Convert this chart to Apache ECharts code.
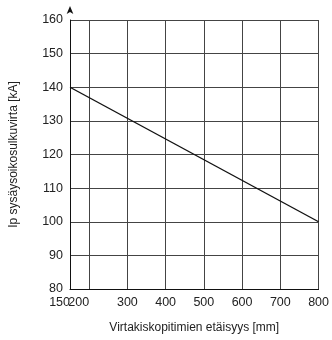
<!DOCTYPE html>
<html lang="fi">
<head>
    <meta http-equiv="Content-Type" content="text/html; charset=UTF-8">
    <title>Ip sysäysoikosulkuvirta</title>
    <script type="text/javascript" src="https://cdn.jsdelivr.net/npm/echarts@6/dist/echarts.min.js"></script>
</head>
<body style="margin:0;width:332px;height:340px;background:#fff">
<div id="main" style="width:332px;height:340px"></div>
<script type="text/javascript">
    // etäisyys [mm] ja virta [kA]
    var distance = [150, 800];
    var current = [140, 100];
    var xTicks = [150, 200, 300, 400, 500, 600, 700, 800];
    var xLabels = [300, 400, 500, 600, 700, 800];
    // 150 ja 200 ovat lähekkäin, ne piirretään omilla akseleillaan oikealle tasattuina
    var xLeftLabels = [[150], [200]];

    var lineData = distance.map(function (d, i) { return [d, current[i]]; });

    var myChart = echarts.init(document.getElementById('main'));
    var font = 'Liberation Sans, Arial, sans-serif';

    var extraAxes = xLeftLabels.map(function (vals) {
        return {
            type: 'value',
            min: 150,
            max: 800,
            position: 'bottom',
            axisLine: { show: false },
            axisTick: { show: false, customValues: vals },
            splitLine: { show: false },
            axisLabel: {
                customValues: vals,
                showMinLabel: true,
                hideOverlap: false,
                align: 'right',
                color: '#222', fontSize: 12.5, fontFamily: font, margin: 7
            }
        };
    });

    myChart.setOption({
        animation: false,
        grid: { left: 67, right: 11, top: 20, bottom: 51 },
        xAxis: [{
            type: 'value',
            min: 150,
            max: 800,
            name: 'Virtakiskopitimien etäisyys [mm]',
            nameLocation: 'middle',
            nameGap: 33,
            nameTextStyle: { color: '#222', fontSize: 12, fontFamily: font },
            axisLine: { onZero: false, lineStyle: { color: '#111', width: 1 } },
            axisTick: { show: false, customValues: xTicks },
            axisLabel: {
                customValues: xLabels,
                color: '#222', fontSize: 12.5, fontFamily: font, margin: 7
            },
            splitLine: { show: true, lineStyle: { color: '#444', width: 1 } }
        }].concat(extraAxes),
        yAxis: {
            type: 'value',
            min: 80,
            max: 160,
            interval: 10,
            name: 'Ip sysäysoikosulkuvirta [kA]',
            nameLocation: 'middle',
            nameGap: 50,
            nameTextStyle: { color: '#222', fontSize: 12, fontFamily: font },
            axisLine: {
                show: true,
                symbol: ['none', 'arrow'],
                symbolSize: [5, 8],
                symbolOffset: [0, 14],
                lineStyle: { color: '#111', width: 1 }
            },
            axisTick: { show: false },
            axisLabel: { color: '#222', fontSize: 12.5, fontFamily: font, margin: 7 },
            splitLine: { show: true, lineStyle: { color: '#444', width: 1 } }
        },
        series: [{
            type: 'line',
            data: lineData,
            symbol: 'none',
            lineStyle: { color: '#111', width: 1.4 }
        }]
    });
</script>
</body>
</html>
